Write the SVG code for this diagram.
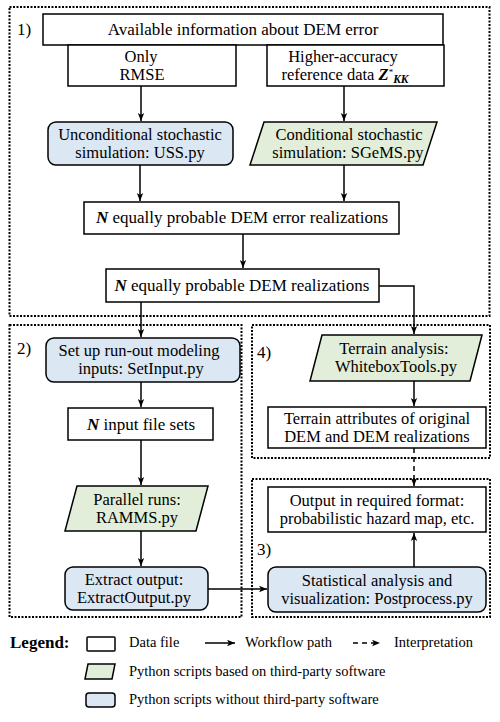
<svg xmlns="http://www.w3.org/2000/svg" width="500" height="722" viewBox="0 0 500 722">
<defs>
<marker id="ah" viewBox="0 0 10 10" refX="10" refY="5" markerWidth="8" markerHeight="8" markerUnits="userSpaceOnUse" orient="auto"><path d="M0,1 L10,5 L0,9 L2.5,5 z" fill="#000"/></marker>
<style>
text{font-family:"Liberation Serif","Times New Roman",serif;font-size:17px;fill:#000;text-anchor:middle}
.two{font-size:16.5px}
.lg{font-size:14.5px;text-anchor:start}
.lab{text-anchor:start}
.bi{font-weight:bold;font-style:italic}
.data{fill:#fff;stroke:#000;stroke-width:1.5}
.py3{fill:#e2eed9;stroke:#000;stroke-width:1.5}
.py{fill:#dce7f4;stroke:#000;stroke-width:1.5}
.grp{fill:none;stroke:#000;stroke-width:2;stroke-dasharray:2 1.5}
.c{fill:none;stroke:#000;stroke-width:1.5}
.d{fill:none;stroke:#000;stroke-width:1.5;stroke-dasharray:5 4}
</style>
</defs>
<rect width="500" height="722" fill="#fff"/>

<g id="groups">
<rect class="grp" x="9.5" y="7" width="480" height="309"/>
<rect class="grp" x="9.5" y="325" width="232" height="292"/>
<rect class="grp" x="252" y="325" width="238" height="133"/>
<rect class="grp" x="252" y="479" width="238" height="138"/>
<text class="lab" x="17" y="35">1)</text>
<text class="lab" x="17" y="354">2)</text>
<text class="lab" x="257" y="358">4)</text>
<text class="lab" x="257" y="555">3)</text>
</g>

<g id="connectors">
<line class="c" x1="141" y1="86" x2="141" y2="121" marker-end="url(#ah)"/>
<line class="c" x1="344" y1="86" x2="344" y2="121" marker-end="url(#ah)"/>
<line class="c" x1="140" y1="165" x2="140" y2="201" marker-end="url(#ah)"/>
<line class="c" x1="344" y1="165" x2="344" y2="201" marker-end="url(#ah)"/>
<line class="c" x1="243" y1="234" x2="243" y2="268" marker-end="url(#ah)"/>
<polyline class="c" points="379,286 414,286 414,334" marker-end="url(#ah)"/>
<line class="c" x1="141" y1="302" x2="141" y2="337" marker-end="url(#ah)"/>
<line class="c" x1="141" y1="382" x2="141" y2="407" marker-end="url(#ah)"/>
<line class="c" x1="141" y1="440" x2="141" y2="485" marker-end="url(#ah)"/>
<line class="c" x1="141" y1="531" x2="141" y2="566" marker-end="url(#ah)"/>
<line class="c" x1="208" y1="589" x2="267" y2="589" marker-end="url(#ah)"/>
<line class="c" x1="414" y1="381" x2="414" y2="406" marker-end="url(#ah)"/>
<line class="d" x1="414" y1="448" x2="414" y2="486" marker-end="url(#ah)"/>
<line class="c" x1="414" y1="567" x2="414" y2="533" marker-end="url(#ah)"/>
</g>

<g id="n-available">
<rect class="data" x="43" y="14" width="400" height="31"/>
<text x="243" y="35">Available information about DEM error</text>
</g>
<g id="n-rmse">
<rect class="data" x="68" y="45" width="168" height="41"/>
<text class="two"><tspan x="141" y="62">Only</tspan><tspan x="142" y="80">RMSE</tspan></text>
</g>
<g id="n-ref">
<rect class="data" x="267" y="45" width="177" height="41"/>
<text class="two"><tspan x="343" y="62">Higher-accuracy</tspan><tspan x="345" y="80">reference data <tspan class="bi">Z</tspan><tspan font-size="9" dy="-5">*</tspan><tspan class="bi" font-size="11.5" dy="8">KK</tspan></tspan></text>
</g>
<g id="n-uss">
<rect class="py" x="48" y="122" width="185" height="43" rx="8"/>
<text class="two"><tspan x="140" y="140">Unconditional stochastic</tspan><tspan x="140" y="158">simulation: USS.py</tspan></text>
</g>
<g id="n-sgems">
<polygon class="py3" points="264,122 437,122 423,165 250,165"/>
<text class="two"><tspan x="349" y="140">Conditional stochastic</tspan><tspan x="348" y="158">simulation: SGeMS.py</tspan></text>
</g>
<g id="n-errreal">
<rect class="data" x="84" y="202" width="315" height="32"/>
<text x="242" y="223"><tspan class="bi">N</tspan> equally probable DEM error realizations</text>
</g>
<g id="n-demreal">
<rect class="data" x="106" y="269" width="273" height="33"/>
<text x="242" y="291"><tspan class="bi">N</tspan> equally probable DEM realizations</text>
</g>
<g id="n-setinput">
<rect class="py" x="46" y="338" width="194" height="44" rx="8"/>
<text class="two"><tspan x="139" y="356">Set up run-out modeling</tspan><tspan x="141" y="374">inputs: SetInput.py</tspan></text>
</g>
<g id="n-inputs">
<rect class="data" x="68" y="408" width="145" height="32"/>
<text x="141" y="430"><tspan class="bi">N</tspan> input file sets</text>
</g>
<g id="n-ramms">
<polygon class="py3" points="77,486 208,486 196,531 65,531"/>
<text class="two"><tspan x="137" y="505">Parallel runs:</tspan><tspan x="137" y="523">RAMMS.py</tspan></text>
</g>
<g id="n-extract">
<rect class="py" x="65" y="567" width="143" height="43" rx="8"/>
<text class="two"><tspan x="134" y="585">Extract output:</tspan><tspan x="134" y="603">ExtractOutput.py</tspan></text>
</g>
<g id="n-terrain">
<polygon class="py3" points="322,335 482,335 470,381 310,381"/>
<text class="two"><tspan x="394" y="354">Terrain analysis:</tspan><tspan x="396" y="372">WhiteboxTools.py</tspan></text>
</g>
<g id="n-attr">
<rect class="data" x="268" y="407" width="218" height="41"/>
<text class="two"><tspan x="377" y="424">Terrain attributes of original</tspan><tspan x="377" y="442">DEM and DEM realizations</tspan></text>
</g>
<g id="n-output">
<rect class="data" x="268" y="487" width="218" height="45"/>
<text class="two"><tspan x="377" y="506">Output in required format:</tspan><tspan x="377" y="524">probabilistic hazard map, etc.</tspan></text>
</g>
<g id="n-post">
<rect class="py" x="268" y="567" width="218" height="45" rx="8"/>
<text class="two"><tspan x="377" y="586">Statistical analysis and</tspan><tspan x="377" y="604">visualization: Postprocess.py</tspan></text>
</g>

<g id="legend">
<text x="10" y="648" style="text-anchor:start;font-weight:bold">Legend:</text>
<rect class="data" x="87" y="637" width="28" height="14" rx="1"/>
<text class="lg" x="129" y="647">Data file</text>
<line class="c" x1="205" y1="643" x2="235" y2="643" marker-end="url(#ah)"/>
<text class="lg" x="245" y="647">Workflow path</text>
<line class="d" x1="353" y1="643" x2="380" y2="643" stroke-dasharray="4 3" marker-end="url(#ah)"/>
<text class="lg" x="394" y="647">Interpretation</text>
<polygon class="py3" points="88,664 115,664 112,679 85,679"/>
<text class="lg" x="129" y="676">Python scripts based on third-party software</text>
<rect class="py" x="86" y="693" width="29" height="14" rx="3"/>
<text class="lg" x="129" y="704">Python scripts without third-party software</text>
</g>
</svg>
